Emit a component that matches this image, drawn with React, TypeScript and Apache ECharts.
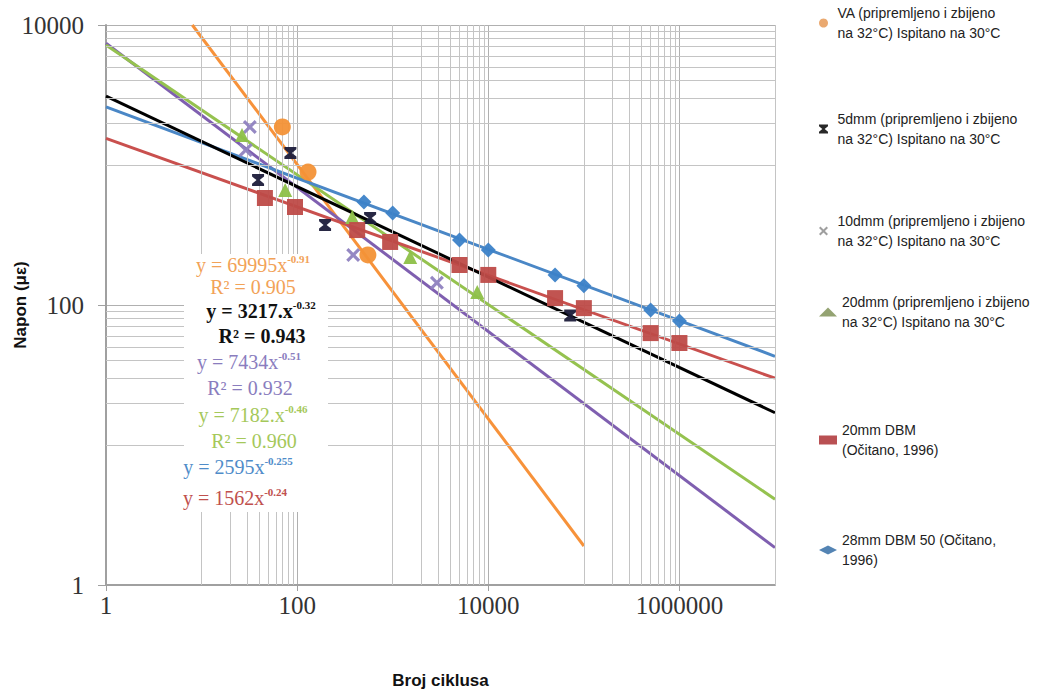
import React, { useEffect, useRef } from 'react';
import * as echarts from 'echarts';

// ---------- tick labels ----------
const xTickLabels = ['1', '100', '10000', '1000000'];
const yTickLabels = ['1', '100', '10000'];

// ---------- measured points (cycles, strain) ----------
const vaCycles = [70, 130, 550];
const vaStrain = [1870, 890, 228];

const dmm5Cycles = [39, 85, 196, 580, 72000];
const dmm5Strain = [780, 1220, 373, 418, 84];

const dmm10Cycles = [32, 29, 386, 2900];
const dmm10Strain = [1870, 1280, 228, 144];

const dmm20Cycles = [26.5, 75, 377, 1525, 7670];
const dmm20Strain = [1640, 663, 425, 220, 124];

const dbm20Cycles = [46, 95, 425, 940, 5000, 10000, 50000, 100000, 500000, 1000000];
const dbm20Strain = [581, 501, 343, 282, 193, 164, 112, 95, 63, 53.5];

const dbm28Cycles = [500, 1000, 5000, 10000, 50000, 100000, 500000, 1000000];
const dbm28Strain = [544, 454, 291, 247, 164, 137, 92, 77];

// ---------- trend line end points ----------
const vaTrendCycles = [8, 100000];
const vaTrendStrain = [10000, 1.9];
const dmm5TrendCycles = [1, 10000000];
const dmm5TrendStrain = [3100, 17];
const dmm10TrendCycles = [1, 10000000];
const dmm10TrendStrain = [7400, 1.85];
const dmm20TrendCycles = [1, 10000000];
const dmm20TrendStrain = [7200, 4.1];
const dbm20TrendCycles = [1, 10000000];
const dbm20TrendStrain = [1550, 30];
const dbm28TrendCycles = [1, 10000000];
const dbm28TrendStrain = [2600, 43];

// ---------- legend texts ----------
const legendVA = ['VA (pripremljeno i zbijeno', 'na 32°C) Ispitano na 30°C'];
const legend5 = ['5dmm (pripremljeno i zbijeno', 'na 32°C) Ispitano na 30°C'];
const legend10 = ['10dmm (pripremljeno i zbijeno', 'na 32°C) Ispitano na 30°C'];
const legend20 = ['20dmm (pripremljeno i zbijeno', 'na 32°C) Ispitano na 30°C'];
const legendDBM20 = ['20mm DBM', '(Očitano, 1996)'];
const legendDBM28 = ['28mm DBM 50 (Očitano,', '1996)'];

// ---------- trend equations ----------
const eqMain = ['y = 69995x', 'R² = 0.905', 'y = 3217.x', 'R² = 0.943', 'y = 7434x', 'R² = 0.932', 'y = 7182.x', 'R² = 0.960', 'y = 2595x', 'y = 1562x'];
const eqSup = ['-0.91', '', '-0.32', '', '-0.51', '', '-0.46', '', '-0.255', '-0.24'];

// ---------- styles / layout (not data) ----------
const eqColors = ['#F2A257', '#F2A257', '#111111', '#111111', '#8A7DBE', '#8A7DBE', '#A5C85A', '#A5C85A', '#4F8CC9', '#C0504D'];
const eqBold = [false, false, true, true, false, false, false, false, false, false];
const eqPos = [[253, 265], [253, 287], [261, 311], [262, 336], [249, 362], [250, 388], [253, 415], [254, 441], [238, 467], [235, 498]];
const legendFirstLineY = [23, 129, 231, 312, 440, 550];

const zip = (a: number[], b: number[]) => a.map((v, i) => [v, b[i]]);
const joinName = (l: string[]) => l.join(' ');

export default function App() {
  const ref = useRef<HTMLDivElement>(null);

  useEffect(() => {
    if (!ref.current) return;
    const chart = echarts.init(ref.current, null, { renderer: 'svg' });

    const minorX: number[] = [];
    [10, 1000, 100000].forEach((b) => {
      for (let k = 1; k <= 9; k++) minorX.push(b * k);
    });
    minorX.push(10000000);
    const minorY: number[] = [];
    [10, 1000].forEach((b) => {
      for (let k = 1; k <= 9; k++) minorY.push(b * k);
    });

    const entries = [
      { lines: legendVA, x: vaCycles, y: vaStrain, tx: vaTrendCycles, ty: vaTrendStrain, symbol: 'circle', size: 17, color: '#F39237', line: '#F7923A', legendColor: '#E9A468' },
      { lines: legend5, x: dmm5Cycles, y: dmm5Strain, tx: dmm5TrendCycles, ty: dmm5TrendStrain, symbol: 'path://M0,0H10V2L6.3,5L10,8V10H0V8L3.7,5L0,2Z', size: 12, color: '#1C1C3A', line: '#000000', legendColor: '#1C1C1C' },
      { lines: legend10, x: dmm10Cycles, y: dmm10Strain, tx: dmm10TrendCycles, ty: dmm10TrendStrain, symbol: 'path://M0,1.6L1.6,0L5,3.4L8.4,0L10,1.6L6.6,5L10,8.4L8.4,10L5,6.6L1.6,10L0,8.4L3.4,5Z', size: 14, color: '#8F82C0', line: '#7F5FB0', legendColor: '#9A9A9A' },
      { lines: legend20, x: dmm20Cycles, y: dmm20Strain, tx: dmm20TrendCycles, ty: dmm20TrendStrain, symbol: 'triangle', size: 14, color: '#8DC048', line: '#95C24F', legendColor: '#8E9E6A' },
      { lines: legendDBM20, x: dbm20Cycles, y: dbm20Strain, tx: dbm20TrendCycles, ty: dbm20TrendStrain, symbol: 'rect', size: 16, color: '#BE4B48', line: '#C9504E', legendColor: '#B5474A' },
      { lines: legendDBM28, x: dbm28Cycles, y: dbm28Strain, tx: dbm28TrendCycles, ty: dbm28TrendStrain, symbol: 'diamond', size: 15, color: '#3C82C8', line: '#4A87C6', legendColor: '#4B7DB0' },
    ];

    const series: any[] = [];
    series.push({
      type: 'line',
      name: '__grid',
      data: [[1, 1]],
      symbol: 'none',
      lineStyle: { opacity: 0 },
      z: 1,
      silent: true,
      markLine: {
        silent: true,
        symbol: ['none', 'none'],
        label: { show: false },
        lineStyle: { color: '#C4C4C4', width: 1, type: 'solid' },
        emphasis: { disabled: true },
        data: [...minorX.map((v) => ({ xAxis: v })), ...minorY.map((v) => ({ yAxis: v }))],
      },
    });
    // trend lines
    entries.forEach((e, i) => {
      series.push({
        type: 'line',
        name: 'trend' + i,
        data: zip(e.tx, e.ty),
        symbol: 'none',
        showSymbol: false,
        silent: true,
        z: i === 1 ? 4 : 3,
        lineStyle: { color: e.line, width: 3 },
      });
    });
    // measured points
    entries.forEach((e) => {
      series.push({
        type: 'scatter',
        name: joinName(e.lines),
        data: zip(e.x, e.y),
        symbol: e.symbol,
        symbolSize: e.size,
        itemStyle: { color: e.color, opacity: 0.95 },
        z: 5,
      });
    });

    const legends = entries.map((e, i) => ({
      show: true,
      left: 819,
      top: legendFirstLineY[i] - 30,
      orient: 'vertical',
      padding: 0,
      itemWidth: 18,
      itemHeight: 9,
      selectedMode: false,
      data: [{ name: joinName(e.lines), itemStyle: { color: e.legendColor } }],
      formatter: () => e.lines.join('\n'),
      textStyle: {
        fontFamily: 'Liberation Sans, Arial, sans-serif',
        fontSize: 14,
        lineHeight: 20,
        color: '#222222',
        padding: [20, 0, 0, 0],
      },
    }));

    const eqGraphics: any[] = eqMain.map((m, i) => ({
      type: 'text',
      x: eqPos[i][0],
      y: eqPos[i][1],
      z: 60,
      silent: true,
      style: {
        text: eqSup[i] ? `{m|${m}}{s|${eqSup[i]}}` : `{m|${m}}`,
        align: 'center',
        verticalAlign: 'middle',
        rich: {
          m: {
            fontFamily: 'Liberation Serif, Times New Roman, serif',
            fontSize: 20,
            fontWeight: eqBold[i] ? 'bold' : 'normal',
            fill: eqColors[i],
          },
          s: {
            fontFamily: 'Liberation Serif, Times New Roman, serif',
            fontSize: 11,
            fontWeight: 'bold',
            fill: eqColors[i],
            padding: [0, 0, 12, 0],
          },
        },
      },
    }));

    const axisNameStyle = {
      fontFamily: 'Liberation Sans, Arial, sans-serif',
      fontSize: 17,
      fontWeight: 'bold',
      color: '#111111',
    };
    const tickLabelStyle = {
      fontFamily: 'Liberation Serif, Times New Roman, serif',
      fontSize: 25,
      color: '#333333',
    };

    chart.setOption({
      animation: false,
      backgroundColor: '#ffffff',
      grid: { left: 106, right: 267, top: 25, bottom: 106, containLabel: false, outerBoundsMode: 'none' },
      legend: legends,
      xAxis: {
        type: 'log',
        logBase: 100,
        min: 1,
        max: 10000000,
        name: 'Broj ciklusa',
        nameLocation: 'middle',
        nameGap: 87,
        nameMoveOverlap: false,
        nameTextStyle: axisNameStyle,
        axisLine: { show: true, onZero: false, lineStyle: { color: '#A0A0A0', width: 2 } },
        axisTick: { show: true, length: 6, lineStyle: { color: '#A0A0A0' } },
        splitLine: { show: true, lineStyle: { color: '#B0B0B0', width: 1 } },
        minorTick: { show: false },
        axisLabel: {
          ...tickLabelStyle,
          margin: 8,
          showMaxLabel: false,
          formatter: (v: number) => {
            const s = String(Math.round(v));
            return xTickLabels.includes(s) ? s : '';
          },
        },
      },
      yAxis: {
        type: 'log',
        logBase: 100,
        min: 1,
        max: 10000,
        name: 'Napon (με)',
        nameLocation: 'middle',
        nameGap: 77,
        nameMoveOverlap: false,
        nameTextStyle: axisNameStyle,
        axisLine: { show: true, onZero: false, lineStyle: { color: '#A0A0A0', width: 2 } },
        axisTick: { show: true, length: 8, lineStyle: { color: '#A0A0A0' } },
        splitLine: { show: true, lineStyle: { color: '#B0B0B0', width: 1 } },
        minorTick: { show: false },
        axisLabel: {
          ...tickLabelStyle,
          margin: 22,
          formatter: (v: number) => {
            const s = String(Math.round(v));
            return yTickLabels.includes(s) ? s : '';
          },
        },
      },
      graphic: [
        {
          type: 'rect',
          z: 50,
          silent: true,
          shape: { x: 184, y: 254, width: 144, height: 258 },
          style: { fill: '#ffffff' },
        },
        ...eqGraphics,
      ],
      series,
    });

    return () => chart.dispose();
  }, []);

  return (
    <div
      ref={ref}
      style={{ position: 'fixed', left: 0, top: 0, width: 1042, height: 691, background: '#ffffff' }}
    />
  );
}
